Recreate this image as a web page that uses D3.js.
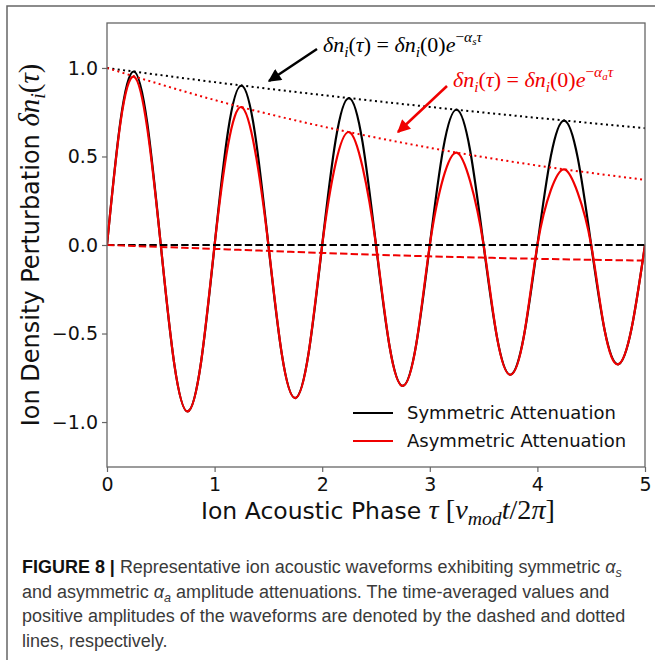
<!DOCTYPE html>
<html>
<head>
<meta charset="utf-8">
<script src="https://cdn.jsdelivr.net/npm/d3@7"></script>
<style>
  html, body { margin: 0; padding: 0; background: #fff; }
  svg { display: block; }
</style>
</head>
<body>
<div id="chart"></div>
<script>
// ---------------- Data ----------------
const tau = [0,0.125,0.25,0.375,0.5,0.625,0.75,0.875,1,1.125,1.25,1.375,1.5,1.625,1.75,1.875,
             2,2.125,2.25,2.375,2.5,2.625,2.75,2.875,3,3.125,3.25,3.375,3.5,3.625,3.75,3.875,
             4,4.125,4.25,4.375,4.5,4.625,4.75,4.875,5];
const symWave = [0,0.70,0.98,0.685,0,-0.671,-0.94,-0.658,0,0.644,0.90,0.631,0,-0.618,-0.865,-0.605,
                 0,0.593,0.83,0.581,0,-0.569,-0.796,-0.557,0,0.546,0.764,0.534,0,-0.523,-0.733,-0.513,
                 0,0.502,0.703,0.492,0,-0.482,-0.674,-0.472,0];
const asymWave = [0,0.690,0.951,0.656,0,-0.671,-0.94,-0.658,0,0.565,0.779,0.537,0,-0.618,-0.865,-0.605,
                  0,0.462,0.638,0.440,0,-0.569,-0.796,-0.557,0,0.379,0.522,0.360,0,-0.523,-0.733,-0.513,
                  0,0.310,0.427,0.295,0,-0.482,-0.674,-0.472,0];
const tauEnv   = [0,1,2,3,4,5];
const symEnv   = [1,0.920,0.847,0.780,0.718,0.660];
const asymEnv  = [1,0.819,0.670,0.549,0.449,0.368];
const symMean  = [0,0,0,0,0,0];
const asymMean = [0,-0.022,-0.045,-0.064,-0.078,-0.088];

const xTicks = [0,1,2,3,4,5];
const yTicks = [-1.0,-0.5,0.0,0.5,1.0];
const legendLabels = ["Symmetric Attenuation","Asymmetric Attenuation"];
const seriesColors = ["#000000","#f00000"];

// ---------------- Layout ----------------
const W = 655, H = 660;
const plot = {left:107, right:645, top:23, bottom:467};
const svg = d3.select("#chart").append("svg").attr("width",W).attr("height",H)
  .style("font-family","'DejaVu Sans', sans-serif");
svg.append("rect").attr("width",W).attr("height",H).attr("fill","#fff");

// Outer figure frame (top and left rules)
svg.append("path").attr("d",`M7,${H} V6 H${W}`).attr("fill","none")
  .attr("stroke","#666").attr("stroke-width",1.5);

const x = d3.scaleLinear().domain([0,5]).range([plot.left,plot.right]);
const y = d3.scaleLinear().domain([-1.254,1.254]).range([plot.bottom,plot.top]);

svg.append("clipPath").attr("id","clip").append("rect")
  .attr("x",plot.left).attr("y",plot.top)
  .attr("width",plot.right-plot.left).attr("height",plot.bottom-plot.top);
const g = svg.append("g").attr("clip-path","url(#clip)");

const line = d3.line().x(d=>x(d[0])).y(d=>y(d[1])).curve(d3.curveNatural);
const zip = (a,b)=>a.map((v,i)=>[v,b[i]]);

g.append("path").attr("d",line(zip(tau,symWave))).attr("fill","none")
  .attr("stroke",seriesColors[0]).attr("stroke-width",2.2);
g.append("path").attr("d",line(zip(tau,asymWave))).attr("fill","none")
  .attr("stroke",seriesColors[1]).attr("stroke-width",2.2);
g.append("path").attr("d",line(zip(tauEnv,symMean))).attr("fill","none")
  .attr("stroke",seriesColors[0]).attr("stroke-width",2).attr("stroke-dasharray","7.4,3.2");
g.append("path").attr("d",line(zip(tauEnv,asymMean))).attr("fill","none")
  .attr("stroke",seriesColors[1]).attr("stroke-width",2).attr("stroke-dasharray","7.4,3.2");
g.append("path").attr("d",line(zip(tauEnv,symEnv))).attr("fill","none")
  .attr("stroke",seriesColors[0]).attr("stroke-width",2).attr("stroke-dasharray","2,3.4");
g.append("path").attr("d",line(zip(tauEnv,asymEnv))).attr("fill","none")
  .attr("stroke",seriesColors[1]).attr("stroke-width",2).attr("stroke-dasharray","2,3.4");

// Axes
const fmtY = d3.format(".1f");
const xAxis = svg.append("g").attr("transform",`translate(0,${plot.bottom})`)
  .call(d3.axisBottom(x).tickValues(xTicks).tickFormat(d3.format("d")).tickSize(5).tickPadding(6));
const yAxis = svg.append("g").attr("transform",`translate(${plot.left},0)`)
  .call(d3.axisLeft(y).tickValues(yTicks).tickFormat(fmtY).tickSize(5).tickPadding(4));
[xAxis,yAxis].forEach(a=>{
  a.selectAll("path.domain").remove();
  a.selectAll(".tick line").attr("stroke","#666").attr("stroke-width",1.2);
  a.selectAll(".tick text").attr("fill","#111").style("font-size","19px")
    .style("font-family","'DejaVu Sans', sans-serif");
});
svg.append("rect").attr("x",plot.left).attr("y",plot.top)
  .attr("width",plot.right-plot.left).attr("height",plot.bottom-plot.top)
  .attr("fill","none").attr("stroke","#666").attr("stroke-width",1.3);

// --------- math text helper ---------
// part: {t, it (italic), serif, off (em baseline offset of base size, +down), sz (scale)}
function mathText(sel, parts, size) {
  let prevOff = 0;
  parts.forEach(p=>{
    const off = p.off||0, sz = p.sz||1;
    const ts = sel.append("tspan").text(p.t)
      .attr("dy", ((off-prevOff)*size).toFixed(2))
      .style("font-size",(size*sz).toFixed(2)+"px");
    if (p.it) ts.style("font-style","italic");
    if (p.serif) ts.style("font-family","'Liberation Serif', 'DejaVu Serif', serif");
    prevOff = off;
  });
}
const S = (t,o)=>Object.assign({t:t, serif:1},o||{});
const T = (t)=>({t:t});

// Annotations
function annotation(xp, yp, color, sub) {
  const t = svg.append("text").attr("x",xp).attr("y",yp).attr("fill",color);
  mathText(t, [
    S("δn",{it:1}),S("i",{it:1,off:0.22,sz:0.7}),S("("),S("τ",{it:1}),S(")"), S(" = "),
    S("δn",{it:1}),S("i",{it:1,off:0.22,sz:0.7}),S("(0)"),
    S("e",{it:1}),S("−",{off:-0.45,sz:0.7}),S("α",{it:1,off:-0.45,sz:0.7}),
    S(sub,{it:1,off:-0.33,sz:0.5}),S("τ",{it:1,off:-0.45,sz:0.7})
  ], 22);
}
annotation(323,52,"#000","s");
annotation(453,87,seriesColors[1],"a");

// arrows
const defs = svg.append("defs");
[["ah-k","#000"],["ah-r",seriesColors[1]]].forEach(([id,c])=>{
  defs.append("marker").attr("id",id).attr("viewBox","0 0 10 10").attr("refX",9).attr("refY",5)
    .attr("markerUnits","userSpaceOnUse").attr("markerWidth",15).attr("markerHeight",13)
    .attr("orient","auto").append("path").attr("d","M0,0 L10,5 L0,10 z").attr("fill",c);
});
svg.append("line").attr("x1",317).attr("y1",49).attr("x2",269).attr("y2",81)
  .attr("stroke","#000").attr("stroke-width",2.5).attr("marker-end","url(#ah-k)");
svg.append("line").attr("x1",447).attr("y1",86).attr("x2",398).attr("y2",132)
  .attr("stroke",seriesColors[1]).attr("stroke-width",2.5).attr("marker-end","url(#ah-r)");

// Legend
const legY = [413,441];
legendLabels.forEach((lab,i)=>{
  svg.append("line").attr("x1",353).attr("x2",393).attr("y1",legY[i]).attr("y2",legY[i])
    .attr("stroke",seriesColors[i]).attr("stroke-width",2);
  svg.append("text").attr("x",407).attr("y",legY[i]).attr("dy","0.36em")
    .attr("fill","#111").style("font-size","18px").text(lab);
});

// Axis labels
const mz = 1.2;
const xl = svg.append("text").attr("x",378).attr("y",519).attr("text-anchor","middle")
  .attr("fill","#111").style("font-size","23.5px");
mathText(xl, [T("Ion Acoustic Phase "),S("τ",{it:1,sz:mz}),S(" [",{sz:mz}),S("ν",{it:1,sz:mz}),
  S("mod",{it:1,off:0.25,sz:0.7*mz}),S("t",{it:1,sz:mz}),S("/2",{sz:mz}),S("π",{it:1,sz:mz}),S("]",{sz:mz})],23.5);

const yl = svg.append("text").attr("transform","translate(39,245) rotate(-90)")
  .attr("text-anchor","middle").attr("fill","#111").style("font-size","24px");
mathText(yl, [T("Ion Density Perturbation "),S("δn",{it:1,sz:mz}),S("i",{it:1,off:0.25,sz:0.7*mz}),
  S("(",{sz:mz}),S("τ",{it:1,sz:mz}),S(")",{sz:mz})], 24);

// Caption
const capLines = [
  [{t:"FIGURE 8 | ",b:1},{t:"Representative ion acoustic waveforms exhibiting symmetric "},{t:"α",it:1},{t:"s",it:1,off:0.25,sz:0.7}],
  [{t:"and asymmetric "},{t:"α",it:1},{t:"a",it:1,off:0.25,sz:0.7},{t:" amplitude attenuations. The time-averaged values and"}],
  [{t:"positive amplitudes of the waveforms are denoted by the dashed and dotted"}],
  [{t:"lines, respectively."}]
];
const capY = [573,598,622,647];
const capG = svg.append("g").style("font-family","'Liberation Sans', Arial, sans-serif").attr("fill","#3a3a3a");
const capTexts = capLines.map((parts,i)=>[capG.append("text").attr("x",22).attr("y",capY[i]),parts]);
function drawCaption(size){
  capTexts.forEach(([t,parts])=>{
    t.selectAll("*").remove();
    let prev=0;
    parts.forEach(p=>{
      const off=p.off||0;
      const ts=t.append("tspan").text(p.t).attr("dy",((off-prev)*size).toFixed(2))
        .style("font-size",(size*(p.sz||1)).toFixed(2)+"px");
      if(p.b) ts.style("font-weight","bold").attr("fill","#111");
      if(p.it) ts.style("font-style","italic");
      prev=off;
    });
  });
}
let capSize = 16;
drawCaption(capSize);
const w0 = capTexts[0][0].node().getComputedTextLength();
capSize = capSize*600/w0;
drawCaption(capSize);
</script>
</body>
</html>
